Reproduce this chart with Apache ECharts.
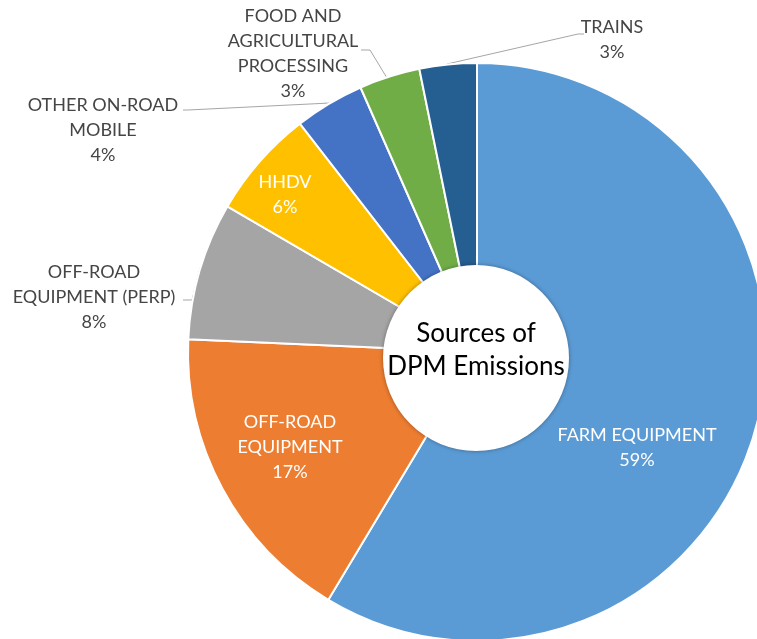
<!DOCTYPE html>
<html>
<head>
<meta charset="utf-8">
<script src="https://cdn.jsdelivr.net/npm/echarts@6/dist/echarts.min.js"></script>
<style>
  html, body { margin: 0; padding: 0; background: #ffffff; }
  #chart { width: 757px; height: 639px; }
</style>
</head>
<body>
<div id="chart"></div>
<script>
// ---- data ----
const categories = [
  'FARM EQUIPMENT',
  'OFF-ROAD\nEQUIPMENT',
  'OFF-ROAD\nEQUIPMENT (PERP)',
  'HHDV',
  'OTHER ON-ROAD\nMOBILE',
  'FOOD AND\nAGRICULTURAL\nPROCESSING',
  'TRAINS'
];
const values = [58.6, 17.1, 7.7, 6.1, 3.9, 3.4, 3.2];
const sliceColors = ['#5B9BD5', '#ED7D31', '#A5A5A5', '#FFC000', '#4472C4', '#70AD47', '#255E91'];
const insideLabel = [true, true, false, true, false, false, false];
const centerTitle = 'Sources of\nDPM Emissions';

// ---- label placement (layout only) ----
const labelSpots = [
  { x: 637, y: 448 },
  { x: 290, y: 447 },
  { x: 94,  y: 297, line: [[200, 268], [192, 300], [183, 300]] },
  { x: 285, y: 195 },
  { x: 103, y: 130, line: [[330, 103], [188, 110], [183, 110]] },
  { x: 293, y: 54,  line: [[387, 78], [370, 50], [361, 50]] },
  { x: 612, y: 40,  line: [[447, 64], [578, 34], [584, 34]] }
];

const FONT = 'Lato, "Noto Sans", sans-serif';

const chart = echarts.init(document.getElementById('chart'), null, { renderer: 'canvas' });

const pieData = categories.map((c, i) => ({
  name: c,
  value: values[i],
  itemStyle: { color: sliceColors[i] },
  label: { color: insideLabel[i] ? '#FFFFFF' : '#454545' },
  labelLine: { show: !insideLabel[i] }
}));

chart.setOption({
  backgroundColor: '#ffffff',
  animation: false,
  series: [
    {
      type: 'pie',
      center: [477, 352],
      radius: [0, 289],
      startAngle: 90,
      clockwise: true,
      avoidLabelOverlap: false,
      percentPrecision: 0,
      silent: true,
      itemStyle: { borderColor: '#ffffff', borderWidth: 2 },
      label: {
        show: true,
        position: 'outside',
        formatter: '{b}\n{d}%',
        fontFamily: FONT,
        fontSize: 18,
        lineHeight: 25,
        align: 'center'
      },
      labelLine: {
        show: true,
        lineStyle: { color: '#A6A6A6', width: 1 }
      },
      labelLayout: function (p) {
        const s = labelSpots[p.dataIndex];
        const r = { x: s.x, y: s.y, align: 'center', verticalAlign: 'middle' };
        if (s.line) r.labelLinePoints = s.line;
        return r;
      },
      data: pieData
    },
    {
      type: 'pie',
      center: [476, 358],
      radius: [0, 93],
      silent: true,
      itemStyle: {
        color: '#ffffff',
        shadowBlur: 4,
        shadowColor: 'rgba(0,0,0,0.35)'
      },
      label: {
        show: true,
        position: 'center',
        offset: [0, -8],
        formatter: '{b}',
        color: '#000000',
        fontFamily: FONT,
        fontSize: 26,
        lineHeight: 33
      },
      labelLine: { show: false },
      data: [{ name: centerTitle, value: 1 }]
    }
  ]
});
</script>
</body>
</html>
